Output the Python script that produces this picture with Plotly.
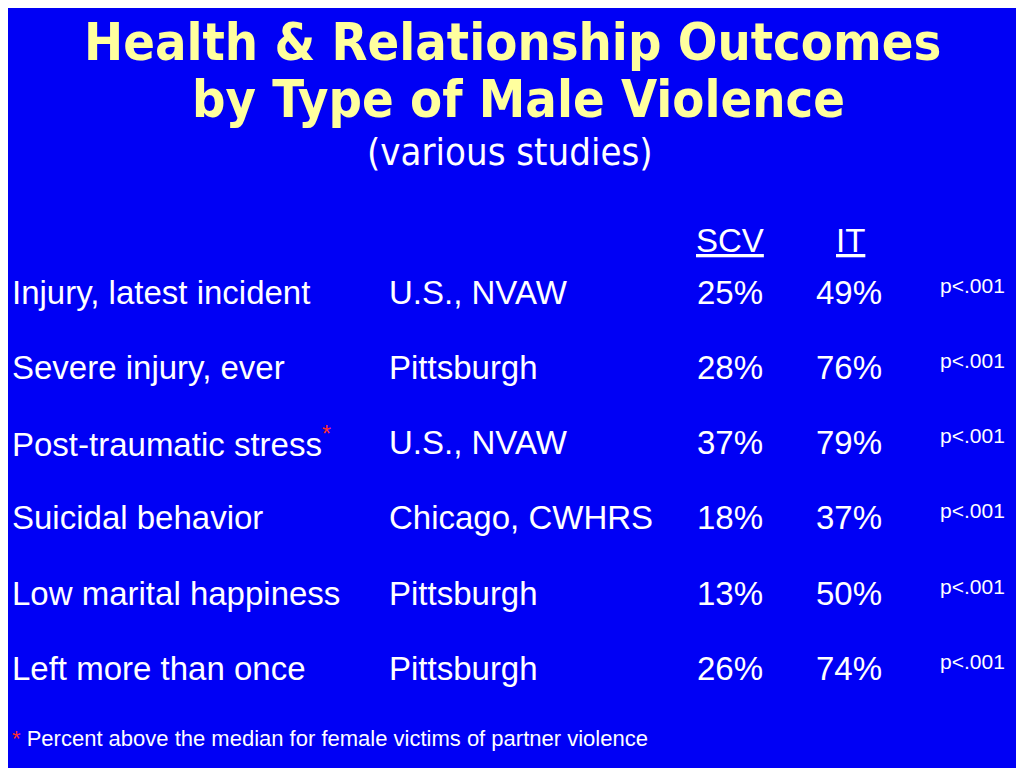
import plotly.graph_objects as go

outcomes = ["Injury, latest incident", "Severe injury, ever", "Post-traumatic stress",
            "Suicidal behavior", "Low marital happiness", "Left more than once"]
studies = ["U.S., NVAW", "Pittsburgh", "U.S., NVAW", "Chicago, CWHRS", "Pittsburgh", "Pittsburgh"]
scv = [25, 28, 37, 18, 13, 26]
it = [49, 76, 79, 37, 50, 74]
pvals = ["p<.001"] * 6
footnote_rows = [2]

BG = "#0000f5"
YEL = "#ffff9e"
body = "Liberation Sans, Arial, sans-serif"
narrow = "DejaVu Sans Condensed, Liberation Sans Narrow, sans-serif"
OFF = 8  # page margin offset

fig = go.Figure()
ann = []

def txt(x, y, s, size, color="white", anchor="left", font=body):
    ann.append(dict(x=x - OFF, y=y - OFF, xref="x", yref="y", text=s, showarrow=False,
                    xanchor=anchor, yanchor="middle",
                    font=dict(family=font, size=size, color=color)))

# title
txt(512, 42, "<b>Health &amp; Relationship Outcomes</b>", 52, YEL, "center", narrow)
txt(518, 99, "<b>by Type of Male Violence</b>", 52, YEL, "center", narrow)
txt(510, 152, "(various studies)", 38, "white", "center", narrow)

# header
txt(730, 240, "<u>SCV</u>", 33, anchor="center")
txt(850, 240, "<u>IT</u>", 33, anchor="center")

row_y = [292, 367, 442, 517, 593, 668]
for i, y in enumerate(row_y):
    label = outcomes[i]
    if i in footnote_rows:
        label += "<sup><span style='color:#ff3030'>*</span></sup>"
    txt(10, y, label, 33)
    txt(387, y, studies[i], 33)
    txt(730, y, f"{scv[i]}%", 33, anchor="center")
    txt(849, y, f"{it[i]}%", 33, anchor="center")
    txt(938, y - 7, pvals[i], 21)

txt(10, 738, "<span style='color:#ff3030'>*</span> Percent above the median for female victims of partner violence", 22)

fig.update_layout(
    width=1024, height=768,
    margin=dict(l=0, r=0, t=0, b=0),
    paper_bgcolor=BG, plot_bgcolor=BG,
    xaxis=dict(range=[0, 1024], visible=False),
    yaxis=dict(range=[768, 0], visible=False),
    annotations=ann,
    showlegend=False,
)

fig.write_html("out.html")
